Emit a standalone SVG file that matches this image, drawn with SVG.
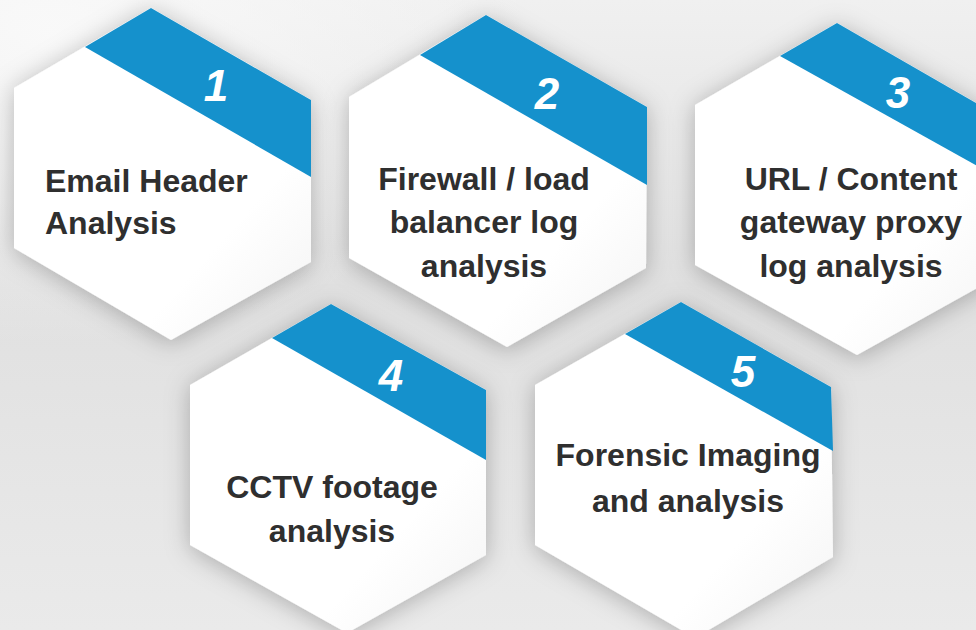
<svg xmlns="http://www.w3.org/2000/svg" width="976" height="630" viewBox="0 0 976 630">
  <defs>
    <linearGradient id="bg" x1="0" y1="0" x2="0" y2="1">
      <stop offset="0" stop-color="#f0f0f0"/>
      <stop offset="0.45" stop-color="#e0e0e0"/>
      <stop offset="1" stop-color="#eaeaea"/>
    </linearGradient>
    <radialGradient id="glow" cx="0.05" cy="0.05" r="0.5">
      <stop offset="0" stop-color="#fafafa" stop-opacity="0.9"/>
      <stop offset="1" stop-color="#fafafa" stop-opacity="0"/>
    </radialGradient>
    <linearGradient id="face" x1="0" y1="0" x2="1" y2="1">
      <stop offset="0" stop-color="#ffffff"/>
      <stop offset="0.7" stop-color="#ffffff"/>
      <stop offset="1" stop-color="#f3f3f3"/>
    </linearGradient>
    <filter id="shadow" x="-20%" y="-20%" width="140%" height="140%">
      <feGaussianBlur in="SourceAlpha" stdDeviation="12"/>
      <feOffset dx="0" dy="3" result="b"/>
      <feFlood flood-color="#000" flood-opacity="0.26"/>
      <feComposite in2="b" operator="in"/>
      <feMerge>
        <feMergeNode/>
        <feMergeNode in="SourceGraphic"/>
      </feMerge>
    </filter>
  </defs>
  <style>
    .hex { fill: url(#face); filter: url(#shadow); }
    .band { fill: #1591cc; }
    .num { font-family: "Liberation Sans", Arial, sans-serif; font-weight: bold; font-style: italic; font-size: 44px; fill: #ffffff; text-anchor: middle; }
    .lbl { font-family: "Liberation Sans", Arial, sans-serif; font-weight: bold; font-size: 32px; fill: #2f2f2f; text-anchor: middle; }
    .lbl-left { text-anchor: start; }
  </style>

  <rect width="976" height="630" fill="url(#bg)"/>
  <rect width="976" height="630" fill="url(#glow)"/>

  <g id="step-1">
    <polygon class="hex" points="151,8 311,100 311,262 171,340 14,248 14,88"/>
    <polygon class="band" points="85,47 151,8 311,100 311,177"/>
    <text class="num" x="216" y="101">1</text>
    <text class="lbl lbl-left" x="45" y="192">Email Header</text>
    <text class="lbl lbl-left" x="45" y="234">Analysis</text>
  </g>

  <g id="step-2">
    <polygon class="hex" points="486,15 647,107 646,268 507,347 349,258 349,97"/>
    <polygon class="band" points="420,55 486,15 647,107 647,185"/>
    <text class="num" x="547" y="109">2</text>
    <text class="lbl" x="484" y="190">Firewall / load</text>
    <text class="lbl" x="484" y="233">balancer log</text>
    <text class="lbl" x="484" y="277">analysis</text>
  </g>

  <g id="step-3">
    <polygon class="hex" points="837,23 997,115 997,277 857,355 695,265 695,105"/>
    <polygon class="band" points="780,56 837,23 997,115 997,177"/>
    <text class="num" x="898" y="108">3</text>
    <text class="lbl" x="851" y="190">URL / Content</text>
    <text class="lbl" x="851" y="233">gateway proxy</text>
    <text class="lbl" x="851" y="277">log analysis</text>
  </g>

  <g id="step-4">
    <polygon class="hex" points="331,304 486,390 486,555 347,633 190,545 190,385"/>
    <polygon class="band" points="272,338 331,304 486,390 486,460"/>
    <text class="num" x="391" y="391">4</text>
    <text class="lbl" x="332" y="498">CCTV footage</text>
    <text class="lbl" x="332" y="542">analysis</text>
  </g>

  <g id="step-5">
    <polygon class="hex" points="681,302 831,387 833,557 695,638 535,545 535,385"/>
    <polygon class="band" points="625,334 681,302 831,387 833,451"/>
    <text class="num" x="743" y="387">5</text>
    <text class="lbl" x="688" y="466">Forensic Imaging</text>
    <text class="lbl" x="688" y="512">and analysis</text>
  </g>
</svg>
